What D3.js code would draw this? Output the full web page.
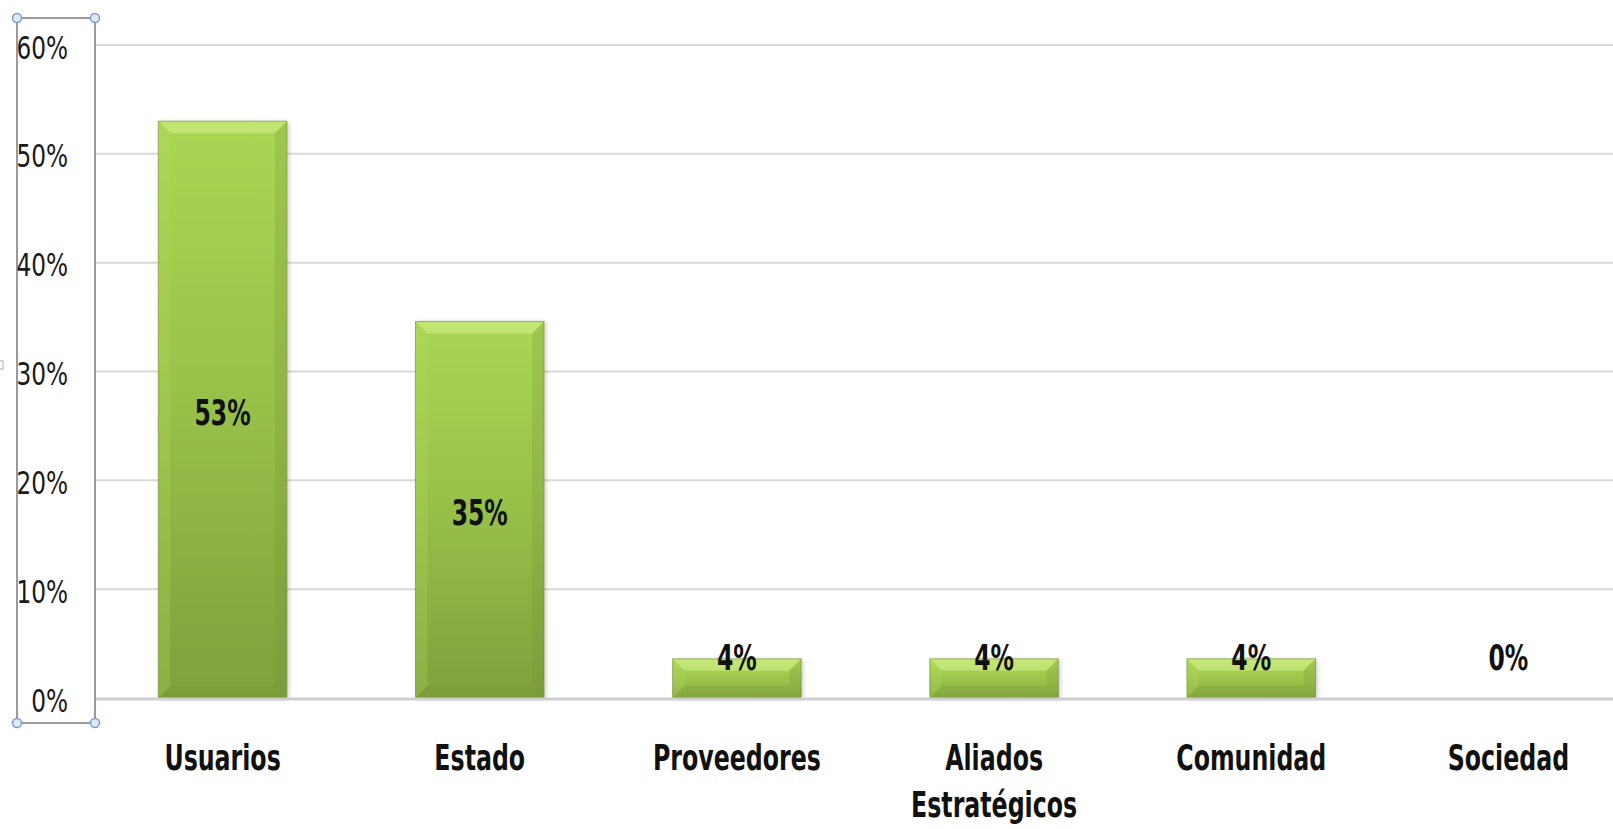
<!DOCTYPE html>
<html>
<head>
<meta charset="utf-8">
<script src="https://cdn.jsdelivr.net/npm/d3@7"></script>
<style>
  html, body { margin: 0; padding: 0; background: #ffffff; overflow: hidden; }
  svg { display: block; }
  .lbl { font-family: "DejaVu Sans Condensed", "DejaVu Sans", sans-serif; }
</style>
</head>
<body>
<svg id="chart" width="1613" height="829"></svg>
<script>
// ---- data ----
const categories = ["Usuarios", "Estado", "Proveedores", "Aliados\nEstratégicos", "Comunidad", "Sociedad"];
const values = [0.53, 0.346, 0.036, 0.036, 0.036, 0.0];
const yTicks = [0, 0.1, 0.2, 0.3, 0.4, 0.5, 0.6];

const svg = d3.select("#chart");
const W = 1613, H = 829;

const x = d3.scaleBand().domain(categories).range([94, 1637]).paddingInner(0.5).paddingOuter(0.25);
const y = d3.scaleLinear().domain([0, 0.6]).range([698, 45]);
const fmt = d3.format(".0%");

// defs
const defs = svg.append("defs");
const g1 = defs.append("linearGradient").attr("id", "barGrad").attr("x1", 0).attr("y1", 0).attr("x2", 0).attr("y2", 1);
g1.append("stop").attr("offset", "0%").attr("stop-color", "#aad653");
g1.append("stop").attr("offset", "50%").attr("stop-color", "#97c049");
g1.append("stop").attr("offset", "100%").attr("stop-color", "#80a03c");
const g2 = defs.append("linearGradient").attr("id", "smallGrad").attr("x1", 0).attr("y1", 0).attr("x2", 0).attr("y2", 1);
g2.append("stop").attr("offset", "0%").attr("stop-color", "#b0db58");
g2.append("stop").attr("offset", "100%").attr("stop-color", "#8aae40");
const sh = defs.append("filter").attr("id", "shadow").attr("x", "-10%").attr("y", "-10%").attr("width", "130%").attr("height", "130%");
sh.append("feDropShadow").attr("dx", 2).attr("dy", 1).attr("stdDeviation", 2).attr("flood-color", "#000").attr("flood-opacity", 0.2);

// gridlines
const grid = svg.append("g");
grid.selectAll("line").data(yTicks.filter(d => d > 0)).join("line")
  .attr("x1", 95).attr("x2", W)
  .attr("y1", d => y(d)).attr("y2", d => y(d))
  .attr("stroke", "#d9d9d9").attr("stroke-width", 2);

// bars
const bars = svg.append("g");
const barData = categories.map((c, i) => ({ c, v: values[i] }));
barData.filter(d => d.v > 0).forEach(d => {
  const bx = x(d.c), bw = x.bandwidth(), by = y(d.v), bh = y(0) - y(d.v);
  const g = bars.append("g");
  g.append("rect").attr("x", bx).attr("y", by).attr("width", bw).attr("height", bh)
    .attr("fill", bh > 100 ? "url(#barGrad)" : "url(#smallGrad)").attr("filter", "url(#shadow)");
  const bv = Math.min(12, bh / 3);
  // top bevel (light)
  g.append("path").attr("d", `M${bx},${by} L${bx + bw},${by} L${bx + bw - bv},${by + bv} L${bx + bv},${by + bv} Z`)
    .attr("fill", "#d6f290").attr("opacity", 0.55);
  // left bevel
  g.append("path").attr("d", `M${bx},${by} L${bx + bv},${by + bv} L${bx + bv},${by + bh - bv} L${bx},${by + bh} Z`)
    .attr("fill", "#b5dc60").attr("opacity", 0.25);
  // right bevel (dark)
  g.append("path").attr("d", `M${bx + bw},${by} L${bx + bw - bv},${by + bv} L${bx + bw - bv},${by + bh - bv} L${bx + bw},${by + bh} Z`)
    .attr("fill", "#6f8d30").attr("opacity", 0.2);
  // bottom bevel
  g.append("path").attr("d", `M${bx},${by + bh} L${bx + bv},${by + bh - bv} L${bx + bw - bv},${by + bh - bv} L${bx + bw},${by + bh} Z`)
    .attr("fill", "#6f8d30").attr("opacity", 0.2);
  g.append("rect").attr("x", bx).attr("y", by).attr("width", bw).attr("height", bh)
    .attr("fill", "none").attr("stroke", "#6e8c30").attr("stroke-width", 1).attr("stroke-opacity", 0.6);
});

// zero axis line
svg.append("line").attr("x1", 95).attr("x2", W).attr("y1", y(0) + 1).attr("y2", y(0) + 1)
  .attr("stroke", "#cfcfcf").attr("stroke-width", 3);

// selection box around y axis
svg.append("rect").attr("x", 17).attr("y", 18).attr("width", 78).attr("height", 705)
  .attr("fill", "none").attr("stroke", "#9a9a9a").attr("stroke-width", 2);
svg.append("rect").attr("x", -4).attr("y", 361).attr("width", 7).attr("height", 8)
  .attr("fill", "#fff").attr("stroke", "#aaa").attr("stroke-width", 1);
[[17, 18], [95, 18], [17, 723], [95, 723]].forEach(p => {
  svg.append("circle").attr("cx", p[0]).attr("cy", p[1]).attr("r", 4.5)
    .attr("fill", "#dce9f7").attr("stroke", "#7b9dc7").attr("stroke-width", 1.5);
});

// y tick labels
svg.append("g").selectAll("g").data(yTicks).join("g")
  .attr("transform", d => `translate(68,${y(d) + 13.5}) scale(0.86,1.08)`)
  .append("text").attr("class", "lbl")
  .attr("text-anchor", "end").attr("font-size", 30).attr("fill", "#1a1a1a")
  .text(d => fmt(d));

// category labels
const cat = svg.append("g").selectAll("g").data(categories).join("g")
  .attr("transform", d => `translate(${x(d) + x.bandwidth() / 2},770)`);
cat.each(function (d) {
  const lines = d.split("\n");
  lines.forEach((ln, i) => {
    d3.select(this).append("g").attr("transform", `translate(0,${i * 47}) scale(0.81,1.1)`)
      .append("text").attr("class", "lbl")
      .attr("text-anchor", "middle").attr("font-size", 32.5).attr("font-weight", "bold").attr("fill", "#111")
      .text(ln);
  });
});

// data labels
svg.append("g").selectAll("g").data(barData).join("g")
  .attr("transform", d => {
    const mid = (y(d.v) + y(0)) / 2;
    const by = (y(0) - y(d.v)) > 80 ? mid + 15.5 : y(0) - 28;
    return `translate(${x(d.c) + x.bandwidth() / 2},${by}) scale(0.79,1.1)`;
  })
  .append("text").attr("class", "lbl")
  .attr("text-anchor", "middle").attr("font-size", 33).attr("font-weight", "bold").attr("fill", "#111")
  .text(d => fmt(d.v));
</script>
</body>
</html>
